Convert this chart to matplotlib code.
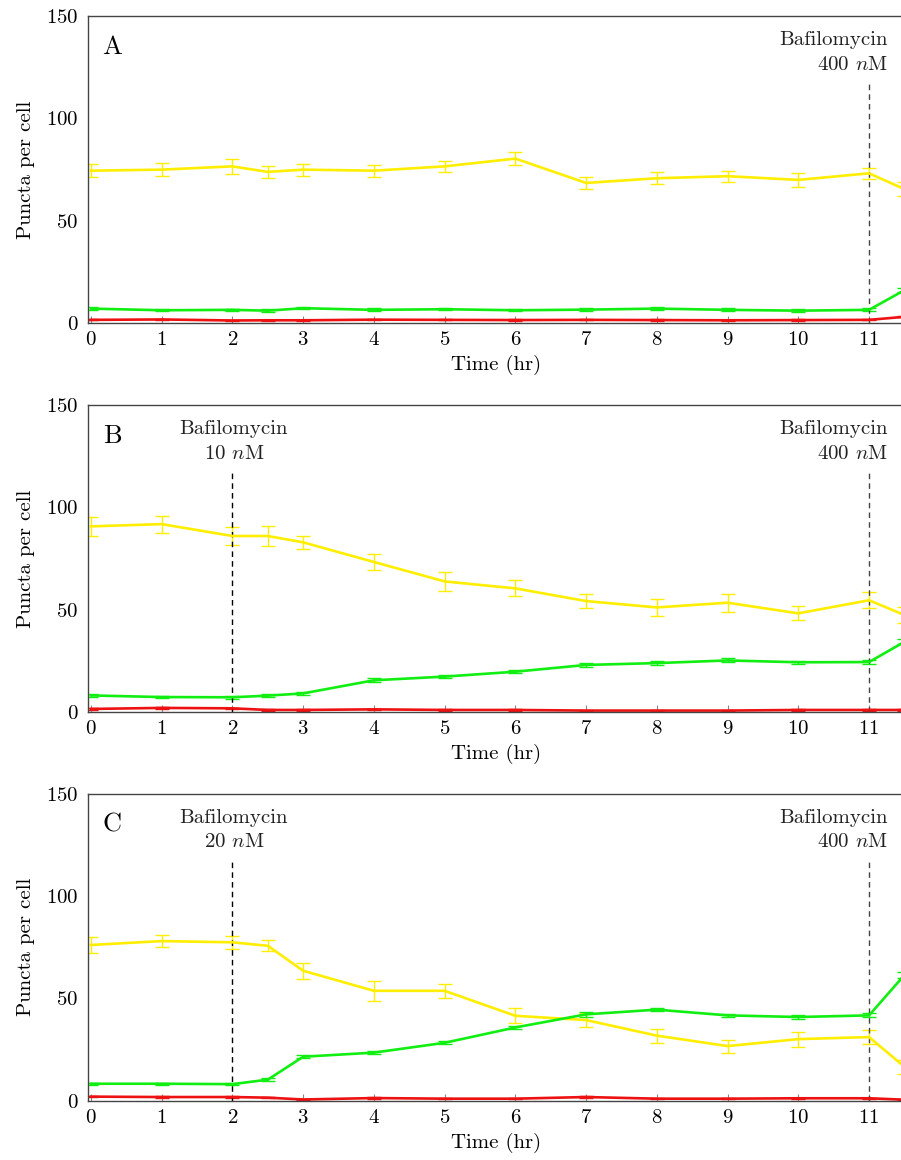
import matplotlib
matplotlib.use('Agg')
import matplotlib.pyplot as plt
import numpy as np

# ====style setup====
plt.rcParams['font.family'] = 'serif'
plt.rcParams['font.serif'] = ['cmr10']
plt.rcParams['mathtext.fontset'] = 'cm'
plt.rcParams['axes.formatter.use_mathtext'] = True
plt.rcParams['font.size'] = 15

# ====data====
time_hr = [0, 1, 2, 2.5, 3, 4, 5, 6, 7, 8, 9, 10, 11, 11.5]
x_ticks = [0, 1, 2, 3, 4, 5, 6, 7, 8, 9, 10, 11]
y_ticks = [0, 50, 100, 150]
panel_labels = ['A', 'B', 'C']

# Panel A
yellow_a = [74.4, 74.9, 76.5, 73.8, 74.9, 74.4, 76.5, 80.3, 68.4, 70.7, 71.7, 69.9, 73.1, 65.4]
yellow_a_err = [3.1, 3.3, 3.7, 2.8, 2.9, 3.0, 2.6, 3.1, 2.8, 3.0, 2.6, 3.3, 2.8, 3.5]
green_a = [7.0, 6.2, 6.4, 6.0, 7.2, 6.4, 6.7, 6.2, 6.5, 7.0, 6.4, 6.0, 6.4, 16.0]
green_a_err = [0.6, 0.6, 0.6, 0.6, 0.6, 0.8, 0.6, 0.6, 0.7, 0.6, 0.7, 0.8, 0.8, 1.0]
red_a = [1.5, 1.7, 1.2, 1.3, 1.3, 1.6, 1.5, 1.4, 1.5, 1.4, 1.3, 1.4, 1.5, 3.0]
red_a_err = [0.3] * 14

# Panel B
yellow_b = [90.7, 91.8, 86.0, 86.0, 82.9, 73.3, 63.8, 60.4, 54.2, 51.1, 53.4, 48.2, 54.6, 47.4]
yellow_b_err = [4.6, 4.1, 4.2, 4.9, 3.3, 3.9, 4.6, 3.9, 3.3, 4.2, 4.4, 3.4, 3.9, 4.0]
green_b = [8.1, 7.3, 7.2, 8.0, 9.1, 15.5, 17.3, 19.7, 23.0, 23.9, 25.2, 24.3, 24.4, 34.3]
green_b_err = [0.6, 0.6, 0.6, 0.7, 0.8, 0.9, 0.6, 0.7, 0.8, 0.9, 1.0, 0.8, 0.8, 1.2]
red_b = [1.5, 2.0, 1.8, 1.0, 1.0, 1.3, 1.0, 1.0, 0.7, 0.7, 0.7, 1.0, 1.0, 1.0]
red_b_err = [0.3] * 14

# Panel C
yellow_c = [76.1, 78.0, 77.4, 75.7, 63.5, 53.7, 53.7, 41.5, 39.4, 31.8, 26.7, 30.1, 31.1, 16.6]
yellow_c_err = [3.7, 2.8, 3.3, 2.6, 3.8, 4.9, 3.4, 3.7, 3.6, 3.4, 3.2, 3.7, 3.4, 3.5]
green_c = [8.3, 8.3, 8.1, 10.3, 21.5, 23.5, 28.3, 35.8, 42.2, 44.5, 41.7, 40.9, 41.7, 61.4]
green_c_err = [0.6, 0.5, 0.6, 0.7, 0.8, 0.8, 0.8, 0.8, 1.2, 0.9, 0.8, 0.9, 1.0, 1.5]
red_c = [2.0, 1.8, 1.8, 1.5, 0.6, 1.3, 1.0, 1.0, 1.8, 1.0, 1.0, 1.2, 1.2, 0.5]
red_c_err = [0.3] * 14

# drug additions: (time, label, alignment)
drugs_a = [(11, 'Bafilomycin\n400 $n$M', 'right')]
drugs_b = [(2, 'Bafilomycin\n10 $n$M', 'center'), (11, 'Bafilomycin\n400 $n$M', 'right')]
drugs_c = [(2, 'Bafilomycin\n20 $n$M', 'center'), (11, 'Bafilomycin\n400 $n$M', 'right')]

panels = [
    (yellow_a, yellow_a_err, green_a, green_a_err, red_a, red_a_err, drugs_a),
    (yellow_b, yellow_b_err, green_b, green_b_err, red_b, red_b_err, drugs_b),
    (yellow_c, yellow_c_err, green_c, green_c_err, red_c, red_c_err, drugs_c),
]

# ====plotting====
fig = plt.figure(figsize=(9.01, 11.6), dpi=100)
bottoms = [0.7216, 0.3862, 0.0511]
left = 88 / 901
width = 1.0038 - left
height = 307 / 1160

colors = {'yellow': '#ffee00', 'green': '#11ee11', 'red': '#ee1111'}

for i, (yv, ye, gv, ge, rv, re, drugs) in enumerate(panels):
    ax = fig.add_axes([left, bottoms[i], width, height])
    for vals, errs, col in [(yv, ye, colors['yellow']), (gv, ge, colors['green']), (rv, re, colors['red'])]:
        ax.errorbar(time_hr, vals, yerr=errs, color=col, lw=1.9, elinewidth=1.0,
                    capsize=5, capthick=1.0, clip_on=True)

    # drug addition markers
    for t, label, ha in drugs:
        lc = 'black' if t < 5 else '#444444'
        ax.plot([t, t], [0, 118.5], color=lc, lw=1.0, ls=(0, (4, 3)))
        tx = t + 0.27 if ha == 'right' else t + 0.02
        ax.text(tx, 142.5, label, ha=ha, va='top', multialignment=ha if ha == 'right' else 'center',
                linespacing=1.45, fontsize=15, color='#222222')

    ax.text(0.30, 134.8, panel_labels[i], ha='center', va='center', fontsize=19)

    ax.set_xlim(-0.042, 11.5)
    ax.set_ylim(0, 150)
    ax.set_xticks(x_ticks)
    ax.set_yticks(y_ticks)
    ax.tick_params(axis='x', direction='in', length=5, width=0.8, color='#888888', pad=6)
    ax.tick_params(axis='y', length=0, pad=7)
    for sp in ax.spines.values():
        sp.set_color('#444444')
        sp.set_linewidth(1.0)
    ax.set_xlabel('Time (hr)', labelpad=4)
    ax.set_ylabel('Puncta per cell', labelpad=8)

fig.savefig('out.png', dpi=100)
